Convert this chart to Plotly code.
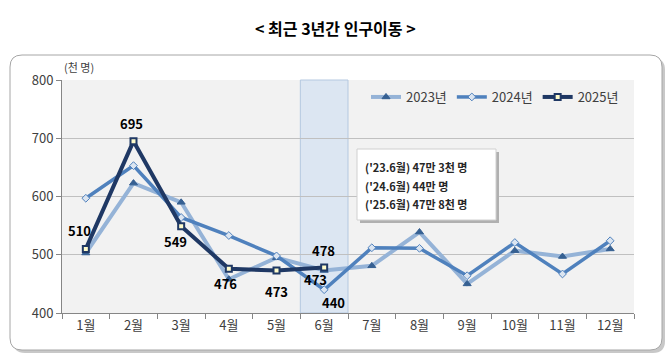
import plotly.graph_objects as go

months = ["1월", "2월", "3월", "4월", "5월", "6월", "7월", "8월", "9월", "10월", "11월", "12월"]
y2023 = [503, 623, 590, 458, 495, 473, 481, 539, 450, 507, 497, 510]
y2024 = [597, 653, 564, 533, 498, 440, 512, 511, 464, 521, 467, 524]
y2025 = [510, 695, 549, 476, 473, 478]
yticks = [400, 500, 600, 700, 800]
note_lines = ["('23.6월) 47만 3천 명", "('24.6월) 44만 명", "('25.6월) 47만 8천 명"]
title_text = "< 최근 3년간 인구이동 >"
unit_text = "(천 명)"

W, H = 670, 355
L, R, T, B = 62, 36, 80, 42
PW, PH = W - L - R, H - T - B

def px(x):
    return (x - L) / PW

def py(y):
    return (H - B - y) / PH

FONT = "Malgun Gothic, Noto Sans CJK KR, sans-serif"

fig = go.Figure()

fig.add_trace(go.Scatter(
    x=months, y=y2023, name="2023년", mode="lines+markers",
    line=dict(color="#95b3d7", width=4),
    marker=dict(symbol="triangle-up", size=7, color="#366092", line=dict(color="#366092", width=1)),
))
fig.add_trace(go.Scatter(
    x=months, y=y2024, name="2024년", mode="lines+markers",
    line=dict(color="#4f81bd", width=3.5),
    marker=dict(symbol="diamond", size=6, color="#dbe5f1", line=dict(color="#4f81bd", width=1)),
))
fig.add_trace(go.Scatter(
    x=months[:len(y2025)], y=y2025, name="2025년", mode="lines+markers",
    line=dict(color="#1f3864", width=4),
    marker=dict(symbol="square", size=6, color="#fffccc", line=dict(color="#1f3864", width=2)),
))

shapes = []
def rrect(x0, y0, x1, y1, r):
    X0, X1 = px(x0), px(x1)
    Y0, Y1 = py(y0), py(y1)
    rx, ry = r / PW, r / PH
    return (f"M {X0+rx},{Y0} L {X1-rx},{Y0} Q {X1},{Y0} {X1},{Y0-ry} "
            f"L {X1},{Y1+ry} Q {X1},{Y1} {X1-rx},{Y1} L {X0+rx},{Y1} "
            f"Q {X0},{Y1} {X0},{Y1+ry} L {X0},{Y0-ry} Q {X0},{Y0} {X0+rx},{Y0} Z")

shapes.append(dict(type="path", xref="paper", yref="paper", path=rrect(13, 58, 665, 353, 12),
                   fillcolor="#c8c8c8", line=dict(width=0), layer="below"))
shapes.append(dict(type="path", xref="paper", yref="paper", path=rrect(10, 55, 662, 350, 12),
                   fillcolor="white", line=dict(color="#a6a6a6", width=1), layer="below"))
shapes.append(dict(type="rect", xref="paper", yref="paper", x0=0, x1=1, y0=0, y1=1,
                   fillcolor="#f2f2f2", line=dict(width=0), layer="below"))
shapes.append(dict(type="rect", xref="x", yref="paper", x0=4.5, x1=5.5, y0=0, y1=1,
                   fillcolor="#dce6f2", line=dict(color="#b4c8e0", width=1), layer="below"))
shapes.append(dict(type="rect", xref="paper", yref="paper",
                   x0=px(360), x1=px(499), y0=py(152), y1=py(223),
                   fillcolor="#b0b0b0", line=dict(width=0)))
shapes.append(dict(type="rect", xref="paper", yref="paper",
                   x0=px(357), x1=px(496), y0=py(149), y1=py(220),
                   fillcolor="white", line=dict(color="#d0d0d0", width=1)))

annotations = []
annotations.append(dict(text=f"<b>{title_text}</b>", xref="paper", yref="paper", x=px(335), y=py(28),
                        showarrow=False, font=dict(family="Noto Sans CJK KR", size=16, color="black"),
                        xanchor="center", yanchor="middle"))
annotations.append(dict(text=unit_text, xref="paper", yref="paper", x=px(62), y=py(67),
                        showarrow=False, font=dict(family=FONT, size=11, color="#404040"),
                        xanchor="left", yanchor="middle"))
for i, t in enumerate(note_lines):
    annotations.append(dict(text=f"<b>{t}</b>", xref="paper", yref="paper", x=px(363), y=py(167 + 18.5 * i),
                            showarrow=False, font=dict(family=FONT, size=11, color="#262626"),
                            xanchor="left", yanchor="middle"))

label_offsets = [(-6, 18), (-2, 18), (-6, -15), (-3, -15), (0, -21), (-1, 17)]
for i, v in enumerate(y2025):
    dx, dy = label_offsets[i]
    annotations.append(dict(text=f"<b>{v}</b>", x=months[i], y=v, xref="x", yref="y",
                            showarrow=False, xshift=dx, yshift=dy,
                            font=dict(family=FONT, size=13, color="black")))
annotations.append(dict(text=f"<b>{y2023[5]}</b>", x=months[5], y=y2023[5], xref="x", yref="y",
                        showarrow=False, xshift=-9, yshift=-9,
                        font=dict(family=FONT, size=13, color="black")))
annotations.append(dict(text=f"<b>{y2024[5]}</b>", x=months[5], y=y2024[5], xref="x", yref="y",
                        showarrow=False, xshift=9, yshift=-13,
                        font=dict(family=FONT, size=13, color="black")))

fig.update_layout(
    width=W, height=H,
    margin=dict(l=L, r=R, t=T, b=B),
    paper_bgcolor="white",
    plot_bgcolor="rgba(0,0,0,0)",
    font=dict(family=FONT, size=12, color="#404040"),
    shapes=shapes,
    annotations=annotations,
    showlegend=True,
    legend=dict(orientation="h", x=px(366), y=py(97), xanchor="left", yanchor="middle",
                bgcolor="rgba(0,0,0,0)", font=dict(family=FONT, size=13, color="#404040"),
                itemwidth=30, tracegroupgap=0, traceorder="normal"),
    xaxis=dict(type="category", categoryorder="array", categoryarray=months,
               range=[-0.5, 11.5], showgrid=False, tickson="boundaries",
               ticks="outside", ticklen=5, tickcolor="#868686",
               showline=True, linecolor="#868686", linewidth=1,
               tickfont=dict(size=13, color="#404040"), fixedrange=True),
    yaxis=dict(range=[400, 800], tickvals=yticks, showgrid=True, gridcolor="#c0c0c0", gridwidth=1,
               ticks="outside", ticklen=5, tickcolor="#868686",
               showline=True, linecolor="#868686", linewidth=1, zeroline=False,
               tickfont=dict(size=13, color="#404040"), fixedrange=True),
)

fig.write_html("out.html", config={"displayModeBar": False})
